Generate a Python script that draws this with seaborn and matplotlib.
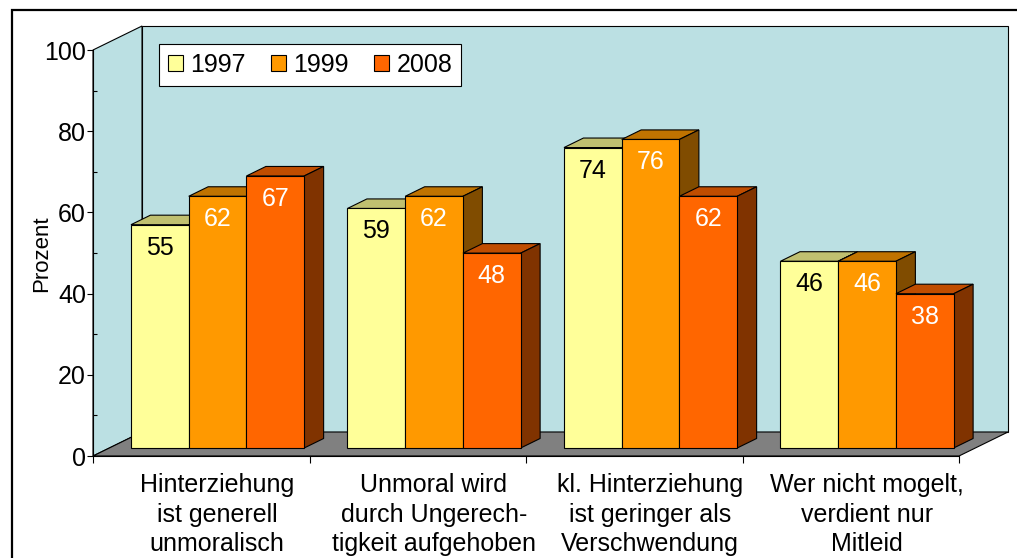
import matplotlib
matplotlib.use("Agg")
import matplotlib.pyplot as plt
from matplotlib.patches import Polygon, Rectangle, Patch
from matplotlib.transforms import Affine2D, IdentityTransform
import pandas as pd
import seaborn as sns

categories = [
    "Hinterziehung\nist generell\nunmoralisch",
    "Unmoral wird\ndurch Ungerech-\ntigkeit aufgehoben",
    "kl. Hinterziehung\nist geringer als\nVerschwendung",
    "Wer nicht mogelt,\nverdient nur\nMitleid",
]
years = ["1997", "1999", "2008"]
values_1997 = [55, 59, 74, 46]
values_1999 = [62, 62, 76, 46]
values_2008 = [67, 48, 62, 38]

front_colors = ["#FFFF99", "#FF9900", "#FF6600"]
top_colors = ["#C0C070", "#C07300", "#C04D00"]
side_colors = ["#808040", "#804C00", "#803300"]
text_colors = ["black", "white", "white"]
WALL = "#BBE0E3"
FLOOR = "#808080"

# oblique offset of the full floor depth, in pixels
DX, DY = 49, 24
BAR_D0, BAR_D1 = 1 / 3, 0.73

sns.set_style("white")
plt.rcParams["font.family"] = ["Liberation Sans", "DejaVu Sans"]
plt.rcParams.update({"text.color": "black", "xtick.color": "black",
                     "ytick.color": "black", "axes.labelcolor": "black"})

df = pd.DataFrame({
    "category": categories * 3,
    "year": [y for y in years for _ in categories],
    "value": values_1997 + values_1999 + values_2008,
})

fig = plt.figure(figsize=(10.17, 5.58), dpi=100)
ax = fig.add_axes([93 / 1017, 102 / 558, 866 / 1017, 406 / 558])
ax.set_facecolor("none")

sns.barplot(
    data=df, x="category", y="value", hue="year",
    order=categories, hue_order=years, palette=front_colors, saturation=1,
    width=0.8, edgecolor="black", linewidth=0.8, legend=False, ax=ax,
)
ax.set_xlim(-0.5, 3.5)
ax.set_ylim(0, 100)
ax.set_autoscale_on(False)


def to_px(x, y, d):
    px, py = ax.transData.transform((x, y))
    return (px + d * DX, py + d * DY)


def add_poly(points, fc, z, lw=0.8):
    ax.add_patch(Polygon(points, closed=True, facecolor=fc, edgecolor="black",
                         linewidth=lw, transform=IdentityTransform(),
                         clip_on=False, zorder=z))


# floor, back wall, left wall
add_poly([to_px(-0.5, 0, 0), to_px(3.5, 0, 0), to_px(3.5, 0, 1), to_px(-0.5, 0, 1)], FLOOR, 0.5)
add_poly([to_px(-0.5, 0, 1), to_px(3.5, 0, 1), to_px(3.5, 100, 1), to_px(-0.5, 100, 1)], WALL, 0.4)
add_poly([to_px(-0.5, 0, 0), to_px(-0.5, 100, 0), to_px(-0.5, 100, 1), to_px(-0.5, 0, 1)], WALL, 0.45)

shift = Affine2D().translate(BAR_D0 * DX, BAR_D0 * DY)
for i, cont in enumerate(ax.containers):
    for j, bar in enumerate(cont):
        x0, w, h = bar.get_x(), bar.get_width(), bar.get_height()
        z = 3 + j * 3 + i
        bar.set_transform(ax.transData + shift)
        bar.set_zorder(z)
        bar.set_clip_on(False)
        add_poly([to_px(x0, h, BAR_D0), to_px(x0 + w, h, BAR_D0),
                  to_px(x0 + w, h, BAR_D1), to_px(x0, h, BAR_D1)], top_colors[i], z - 0.1)
        add_poly([to_px(x0 + w, 0, BAR_D0), to_px(x0 + w, h, BAR_D0),
                  to_px(x0 + w, h, BAR_D1), to_px(x0 + w, 0, BAR_D1)], side_colors[i], z - 0.1)
        ax.text(x0 + w / 2, h, f"{h:.0f}", ha="center", va="center",
                fontsize=18, color=text_colors[i], zorder=100,
                transform=ax.transData + Affine2D().translate(BAR_D0 * DX, BAR_D0 * DY - 23))

# axes, ticks, labels
for s in ["top", "right"]:
    ax.spines[s].set_visible(False)
for s in ["left", "bottom"]:
    ax.spines[s].set_color("black")
    ax.spines[s].set_linewidth(0.8)
    ax.spines[s].set_zorder(60)

ax.set_yticks(range(0, 101, 20))
ax.set_yticks(range(10, 100, 20), minor=True)
ax.tick_params(axis="y", which="major", left=True, direction="out", length=4,
               width=0.8, color="black", labelcolor="black", labelsize=18, pad=1)
ax.tick_params(axis="y", which="minor", left=True, direction="in", length=3,
               width=0.8, color="black")

ax.set_xticks([-0.5, 0.5, 1.5, 2.5, 3.5])
ax.set_xticklabels([])
ax.set_xticks(range(len(categories)), minor=True)
ax.set_xticklabels(categories, minor=True, fontsize=18, linespacing=1.31)
ax.tick_params(axis="x", which="major", bottom=True, direction="out", length=5,
               width=0.8, color="black")
ax.tick_params(axis="x", which="minor", bottom=True, length=0, pad=12,
               labelcolor="black")
for lab in ax.get_xticklabels(minor=True):
    lab.set_transform(lab.get_transform() + Affine2D().translate(16, 0))

ax.set_xlabel("")
ax.set_ylabel("")
ax.text(-0.059, 0.4975, "Prozent", rotation=90, ha="center", va="center",
        fontsize=16, color="black", transform=ax.transAxes)

handles = [Patch(facecolor=c, edgecolor="black", linewidth=0.8, label=y)
           for c, y in zip(front_colors, years)]
leg = fig.legend(handles=handles, loc="upper left",
                 bbox_to_anchor=(159 / 1017, 1 - 44 / 558), ncol=3,
                 frameon=True, fancybox=False, framealpha=1, edgecolor="black",
                 fontsize=18, handlelength=0.6, handleheight=0.6,
                 handletextpad=0.3, columnspacing=1.0, borderpad=0.35,
                 borderaxespad=0, labelcolor="black")
leg.get_frame().set_linewidth(0.8)

# outer chart frame (cut off at the right and bottom)
fig.add_artist(Rectangle((12 / 1017, -0.05), 1.1, 1 - 10 / 558 + 0.05,
                         transform=fig.transFigure, fill=False,
                         edgecolor="black", linewidth=1.6))

fig.savefig("out.png", dpi=100, facecolor="white")
